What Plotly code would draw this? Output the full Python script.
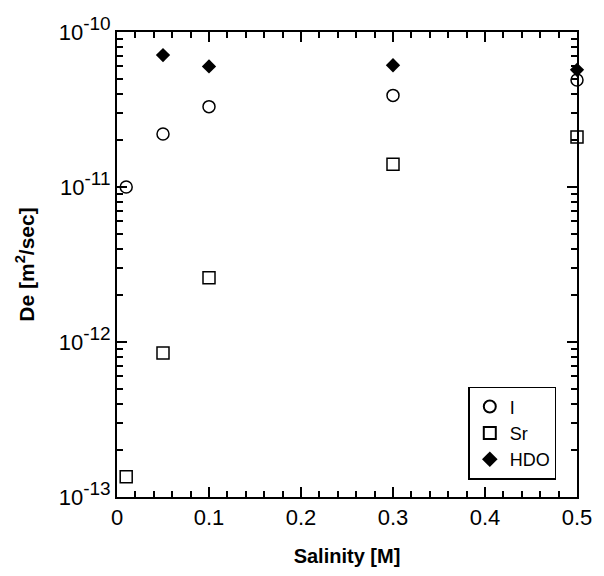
import plotly.graph_objects as go

salinity_I = [0.01, 0.05, 0.1, 0.3, 0.5]
de_I = [1.0e-11, 2.2e-11, 3.3e-11, 3.9e-11, 4.9e-11]
salinity_Sr = [0.01, 0.05, 0.1, 0.3, 0.5]
de_Sr = [1.35e-13, 8.5e-13, 2.6e-12, 1.4e-11, 2.1e-11]
salinity_HDO = [0.05, 0.1, 0.3, 0.5]
de_HDO = [7.1e-11, 6.0e-11, 6.1e-11, 5.7e-11]

x_ticks = [0, 0.1, 0.2, 0.3, 0.4, 0.5]
x_ticklabels = ["0", "0.1", "0.2", "0.3", "0.4", "0.5"]
x_minor_ticks = [0.02, 0.04, 0.06, 0.08, 0.12, 0.14, 0.16, 0.18, 0.22, 0.24, 0.26, 0.28,
                 0.32, 0.34, 0.36, 0.38, 0.42, 0.44, 0.46, 0.48]
y_ticks = [1e-13, 1e-12, 1e-11, 1e-10]
y_exponents = ["-13", "-12", "-11", "-10"]
y_ticklabels = ["10<sup><span style='font-size:19px'>%s</span></sup>" % e for e in y_exponents]
y_minor_mantissas = [2, 3, 4, 5, 6, 7, 8, 9]
y_minor_decades = [1e-13, 1e-12, 1e-11]
y_minor_ticks = [m * d for d in y_minor_decades for m in y_minor_mantissas]

font = "Liberation Sans, Arial, sans-serif"

fig = go.Figure()
fig.add_trace(go.Scatter(x=salinity_I, y=de_I, mode="markers", name="I",
                         marker=dict(symbol="circle-open", size=12, color="black", line=dict(width=1.5)),
                         cliponaxis=False))
fig.add_trace(go.Scatter(x=salinity_Sr, y=de_Sr, mode="markers", name="Sr",
                         marker=dict(symbol="square-open", size=12, color="black", line=dict(width=1.5)),
                         cliponaxis=False))
fig.add_trace(go.Scatter(x=salinity_HDO, y=de_HDO, mode="markers", name="HDO",
                         marker=dict(symbol="diamond", size=11, color="black"),
                         cliponaxis=False))
fig.add_trace(go.Scatter(x=[0.25], y=[1e-12], xaxis="x2", yaxis="y2", mode="markers",
                         marker=dict(opacity=0), showlegend=False, hoverinfo="skip"))

common = dict(showgrid=False, zeroline=False, tickcolor="black", linecolor="black")

fig.update_layout(
    width=604, height=576,
    margin=dict(l=117, r=17, t=32, b=79),
    paper_bgcolor="white", plot_bgcolor="white",
    font=dict(family=font, color="black", size=22),
    showlegend=True,
    legend=dict(x=0.955, y=0.037, xanchor="right", yanchor="bottom",
                bordercolor="black", borderwidth=1.5, bgcolor="white",
                font=dict(size=18), itemsizing="constant", tracegroupgap=0,
                entrywidth=75, entrywidthmode="pixels"),
    xaxis=dict(range=[0, 0.5], tickmode="array", tickvals=x_ticks, ticktext=x_ticklabels,
               ticks="inside", ticklen=10, tickwidth=2,
               showline=True, linewidth=2, mirror="allticks",
               title=dict(text="<b>Salinity [M]</b>", font=dict(size=20), standoff=20),
               tickfont=dict(size=22), **common),
    yaxis=dict(type="log", range=[-13, -10], tickmode="array", tickvals=y_ticks, ticktext=y_ticklabels,
               ticks="inside", ticklen=10, tickwidth=2,
               showline=True, linewidth=2, mirror="allticks",
               title=dict(text="<b>De [m<sup>2</sup>/sec]</b>", font=dict(size=21), standoff=18),
               tickfont=dict(size=22), **common),
    xaxis2=dict(overlaying="x", anchor="y2", side="bottom", range=[0, 0.5], tickmode="array",
                tickvals=x_minor_ticks, showticklabels=False, ticks="inside", ticklen=6, tickwidth=2,
                showline=True, linewidth=2, mirror="allticks", **common),
    yaxis2=dict(overlaying="y", anchor="x2", side="left", type="log", range=[-13, -10], tickmode="array",
                tickvals=y_minor_ticks, showticklabels=False, ticks="inside", ticklen=6, tickwidth=2,
                showline=True, linewidth=2, mirror="allticks", **common),
)

fig.write_html("out.html")
